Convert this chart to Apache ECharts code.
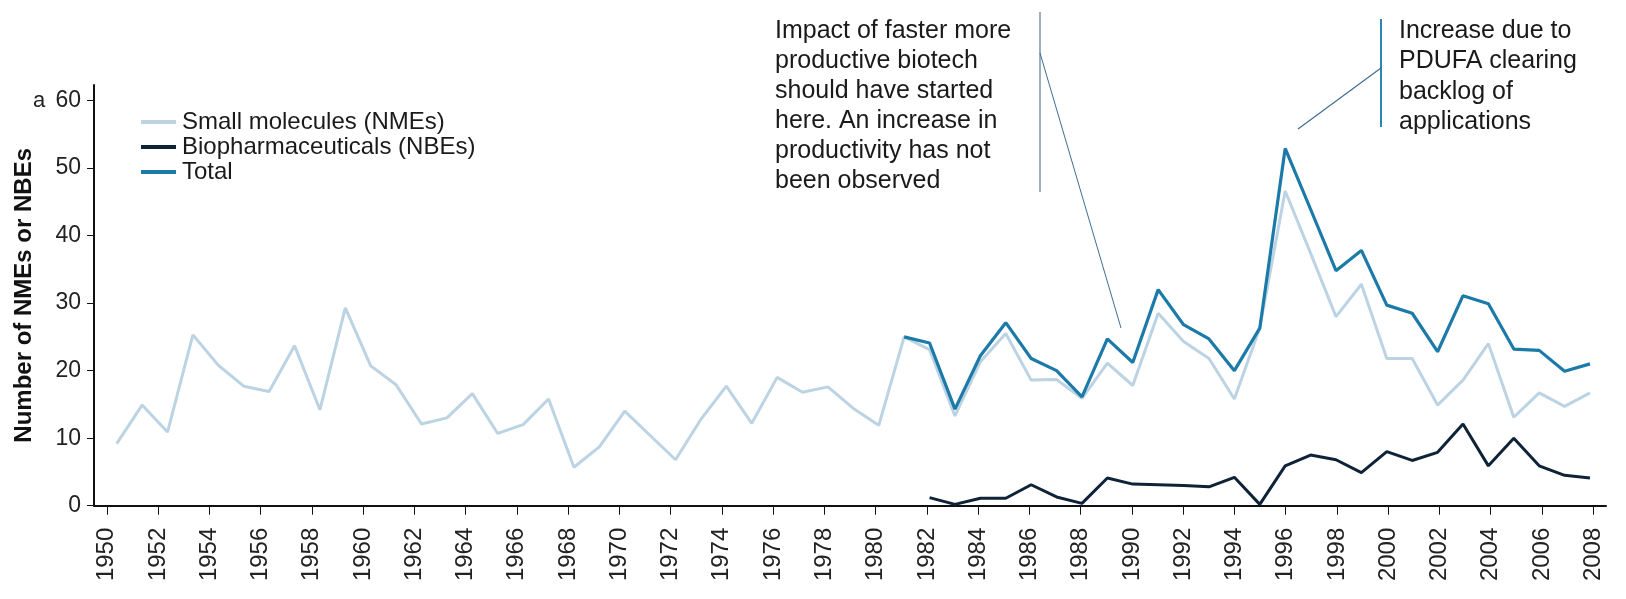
<!DOCTYPE html>
<html>
<head>
<meta charset="utf-8">
<script src="https://cdn.jsdelivr.net/npm/echarts@6/dist/echarts.min.js"></script>
<style>
html,body{margin:0;padding:0;background:#fff;}
#chart{width:1626px;height:599px;}
</style>
</head>
<body>
<div id="chart"></div>
<script>
// ---- data ----
const years = [1950,1951,1952,1953,1954,1955,1956,1957,1958,1959,1960,1961,1962,1963,1964,1965,1966,1967,1968,1969,1970,1971,1972,1973,1974,1975,1976,1977,1978,1979,1980,1981,1982,1983,1984,1985,1986,1987,1988,1989,1990,1991,1992,1993,1994,1995,1996,1997,1998,1999,2000,2001,2002,2003,2004,2005,2006,2007,2008];
const smallMolecules = [9.2,14.9,10.9,25.3,20.8,17.7,16.9,23.7,14.2,29.3,20.7,17.9,12.1,13.0,16.6,10.7,12.0,15.8,5.7,8.7,14.0,10.4,6.8,12.8,17.7,12.2,19.0,16.8,17.6,14.4,11.9,25.0,23.1,13.3,21.3,25.5,18.6,18.7,15.9,21.1,17.8,28.5,24.3,21.8,15.8,26.3,46.6,37.4,28.0,32.8,21.8,21.8,14.9,18.6,24.0,13.1,16.7,14.7,16.7];
const nbeYears = [1982,1983,1984,1985,1986,1987,1988,1989,1990,1991,1992,1993,1994,1995,1996,1997,1998,1999,2000,2001,2002,2003,2004,2005,2006,2007,2008];
const biopharma = [1.2,0.2,1.1,1.1,3.1,1.3,0.35,4.1,3.2,3.1,3.0,2.8,4.2,0.2,5.9,7.5,6.8,4.9,8.0,6.7,7.9,12.1,5.9,10.0,5.9,4.5,4.1];
const totalYears = [1981,1982,1983,1984,1985,1986,1987,1988,1989,1990,1991,1992,1993,1994,1995,1996,1997,1998,1999,2000,2001,2002,2003,2004,2005,2006,2007,2008];
const total = [25.0,24.1,14.3,22.2,27.1,21.8,20.0,16.1,24.7,21.2,32.0,26.8,24.7,20.0,26.3,52.9,43.9,34.8,37.8,29.7,28.5,22.8,31.1,29.9,23.2,23.0,19.9,21.0];
const yTicks = [0,10,20,30,40,50,60];
const seriesNames = ['Small molecules (NMEs)','Biopharmaceuticals (NBEs)','Total'];
const note1 = ['Impact of faster more','productive biotech','should have started','here. An increase in','productivity has not','been observed'];
const note2 = ['Increase due to','PDUFA clearing','backlog of','applications'];

const FONT = "'Liberation Sans', Arial, Helvetica, sans-serif";
const C_SM = '#bcd3e3', C_NBE = '#0e2238', C_TOT = '#1b7aa8';

function pairs(xs, ys){ return xs.map((x,i)=>[x, ys[i]]); }

const chart = echarts.init(document.getElementById('chart'), null, {renderer:'canvas'});
chart.setOption({
  backgroundColor:'#ffffff',
  animation:false,
  textStyle:{fontFamily:FONT},
  grid:{left:94, right:20, top:85, bottom:93.3, containLabel:false},
  legend:{
    orient:'vertical', left:141, top:110, itemGap:1, padding:0,
    itemWidth:35, itemHeight:4, icon:'rect',
    data:seriesNames,
    textStyle:{fontFamily:FONT, fontSize:24, color:'#1a1a1a', padding:[0,0,0,1]}
  },
  xAxis:[
    {
      type:'category', data:years.map(String), boundaryGap:true,
      axisLine:{show:true, lineStyle:{color:'#111', width:2}},
      axisTick:{show:true, alignWithLabel:true, interval:1, length:9, lineStyle:{color:'#111', width:1}},
      axisLabel:{interval:1, rotate:90, margin:22, fontSize:24, color:'#222', fontFamily:FONT},
      splitLine:{show:false}
    },
    {
      type:'value', min:1949.106, max:2008.63, show:false, position:'bottom'
    }
  ],
  yAxis:{
    type:'value', min:0, max:62.3, interval:10,
    name:'Number of NMEs or NBEs', nameLocation:'middle', nameRotate:90, nameGap:58,
    nameTextStyle:{fontSize:24, fontWeight:'bold', color:'#111', fontFamily:FONT},
    axisLine:{show:true, lineStyle:{color:'#111', width:2}},
    axisTick:{show:true, length:7, lineStyle:{color:'#111', width:1}, customValues:yTicks},
    axisLabel:{margin:13, fontSize:23, color:'#222', fontFamily:FONT, customValues:yTicks},
    splitLine:{show:false}
  },
  series:[
    {name:seriesNames[0], type:'line', xAxisIndex:1, data:pairs(years, smallMolecules), symbol:'none',
     lineStyle:{color:C_SM, width:3}, itemStyle:{color:C_SM}, z:2},
    {name:seriesNames[1], type:'line', xAxisIndex:1, data:pairs(nbeYears, biopharma), symbol:'none',
     lineStyle:{color:C_NBE, width:3}, itemStyle:{color:C_NBE}, z:3},
    {name:seriesNames[2], type:'line', xAxisIndex:1, data:pairs(totalYears, total), symbol:'none',
     lineStyle:{color:C_TOT, width:3.2}, itemStyle:{color:C_TOT}, z:4}
  ],
  graphic:[
    {type:'text', left:33, top:90, style:{text:'a', font:'22px '+FONT, fill:'#222'}},
    {type:'text', left:775, top:16, style:{text:note1.join('\n'), font:'25px '+FONT, lineHeight:30, fill:'#1a1a1a'}},
    {type:'text', left:1399, top:16, style:{text:note2.join('\n'), font:'25px '+FONT, lineHeight:30.3, fill:'#1a1a1a'}},
    {type:'line', shape:{x1:1040, y1:12, x2:1040, y2:192}, style:{stroke:'#7d93a8', lineWidth:1.5}},
    {type:'line', shape:{x1:1040, y1:53, x2:1121, y2:328}, style:{stroke:'#3f6d92', lineWidth:1}},
    {type:'line', shape:{x1:1381, y1:19, x2:1381, y2:127}, style:{stroke:'#2a86b8', lineWidth:2}},
    {type:'line', shape:{x1:1381, y1:68, x2:1298, y2:129}, style:{stroke:'#3f6d92', lineWidth:1.2}}
  ]
});
</script>
</body>
</html>
